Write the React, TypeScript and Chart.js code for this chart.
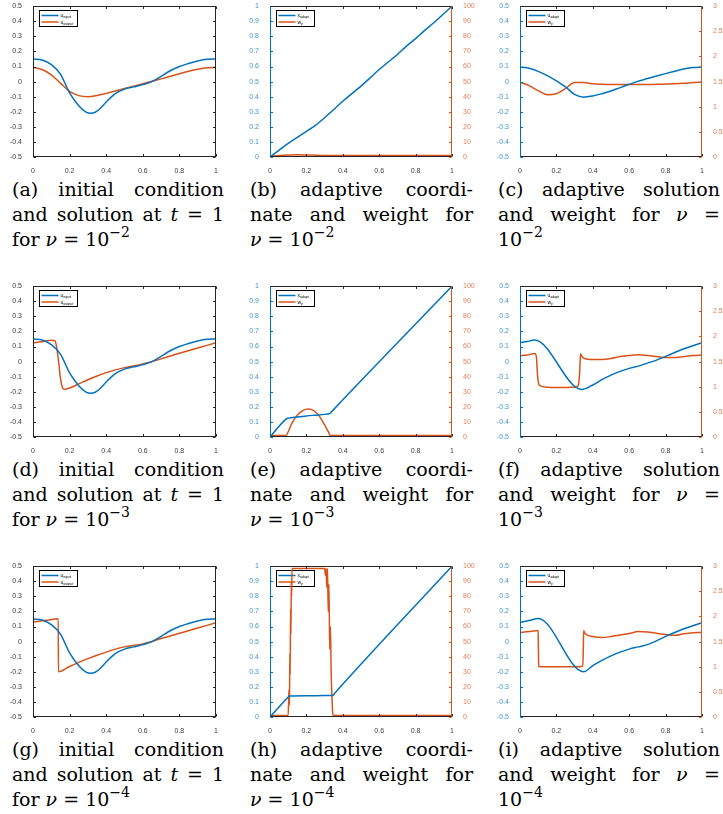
import React, { useEffect, useRef } from 'react';
import { Chart, registerables } from 'chart.js';

Chart.register(...registerables);

// ---------------- data ----------------
const X21 = [0, 0.05, 0.1, 0.15, 0.2, 0.25, 0.3, 0.35, 0.4, 0.45, 0.5, 0.55, 0.6, 0.65, 0.7, 0.75, 0.8, 0.85, 0.9, 0.95, 1];

// u_input (same in a, d, g)
const X_IN = [0, 0.05, 0.1, 0.15, 0.2, 0.25, 0.29, 0.315, 0.34, 0.37, 0.4, 0.45, 0.5, 0.55, 0.6, 0.65, 0.7, 0.75, 0.8, 0.85, 0.9, 0.95, 1];
const U_INPUT = [0.15, 0.143, 0.113, 0.05, -0.075, -0.16, -0.202, -0.21, -0.203, -0.175, -0.135, -0.08, -0.05, -0.035, -0.02, 0.0, 0.035, 0.072, 0.1, 0.12, 0.137, 0.148, 0.15];

// (a) u_output, nu = 1e-2
const U_OUT_A = [0.095, 0.08, 0.045, -0.01, -0.065, -0.093, -0.1, -0.092, -0.078, -0.062, -0.046, -0.03, -0.014, 0.002, 0.018, 0.035, 0.052, 0.068, 0.082, 0.092, 0.095];

// (d) u_output, nu = 1e-3
const X_OUT_D = [0, 0.05, 0.1, 0.12, 0.13, 0.14, 0.15, 0.16, 0.17, 0.2, 0.25, 0.3, 0.35, 0.4, 0.45, 0.5, 0.6, 0.7, 0.8, 0.9, 1];
const U_OUT_D = [0.125, 0.132, 0.142, 0.138, 0.09, 0.0, -0.11, -0.17, -0.183, -0.175, -0.148, -0.12, -0.095, -0.073, -0.055, -0.04, -0.015, 0.018, 0.055, 0.09, 0.125];

// (g) u_output, nu = 1e-4
const X_OUT_G = [0, 0.07, 0.138, 0.139, 0.2, 0.25, 0.3, 0.35, 0.4, 0.45, 0.5, 0.6, 0.7, 0.8, 0.9, 1];
const U_OUT_G = [0.13, 0.141, 0.152, -0.2, -0.165, -0.138, -0.113, -0.09, -0.07, -0.05, -0.035, -0.015, 0.02, 0.055, 0.09, 0.125];

// (b) x_adapt and weight, nu = 1e-2
const XA_B = [0, 0.045, 0.09, 0.13, 0.17, 0.21, 0.26, 0.315, 0.37, 0.42, 0.47, 0.525, 0.58, 0.63, 0.68, 0.735, 0.785, 0.84, 0.89, 0.945, 1];
const W_B = [0.6, 1.0, 1.3, 1.5, 1.4, 1.2, 1.05, 1, 1, 1, 1, 1, 1, 1, 1, 1, 1, 1, 1, 1, 1];

// (e) x_adapt and weight, nu = 1e-3
const X_XA_E = [0, 0.09, 0.1, 0.15, 0.2, 0.25, 0.3, 0.33, 0.34, 1];
const XA_E = [0, 0.12, 0.125, 0.133, 0.14, 0.145, 0.15, 0.157, 0.17, 1];
const X_W_E = [0, 0.088, 0.1, 0.12, 0.15, 0.18, 0.21, 0.24, 0.27, 0.3, 0.32, 0.333, 0.4, 1];
const W_E = [1, 1, 3.5, 9, 14.5, 17.5, 18.5, 17.5, 14, 8, 3.5, 1, 1, 1];

// (h) x_adapt and weight, nu = 1e-4
const X_XA_H = [0, 0.1, 0.105, 0.2, 0.3, 0.345, 0.35, 1];
const XA_H = [0, 0.133, 0.139, 0.141, 0.142, 0.143, 0.15, 1];
const X_W_H = [0, 0.1, 0.104, 0.107, 0.109, 0.111, 0.113, 0.115, 0.117, 0.119, 0.121, 0.124, 0.3, 0.305, 0.308, 0.312, 0.316, 0.32, 0.324, 0.328, 0.332, 0.336, 0.34, 0.345, 0.35, 1];
const W_H = [1, 1, 18, 8, 42, 28, 72, 55, 90, 80, 98.5, 98.5, 98.5, 94, 98.5, 86, 98.5, 70, 88, 45, 60, 30, 15, 2, 1, 1];

// (c) u_adapt and weight, nu = 1e-2
const UA_C = [0.097, 0.088, 0.068, 0.04, 0.005, -0.035, -0.085, -0.103, -0.095, -0.08, -0.062, -0.04, -0.018, 0.003, 0.02, 0.037, 0.053, 0.068, 0.083, 0.093, 0.097];
const WU_C = [1.49, 1.42, 1.32, 1.24, 1.26, 1.36, 1.48, 1.48, 1.455, 1.445, 1.44, 1.44, 1.44, 1.44, 1.44, 1.445, 1.45, 1.455, 1.465, 1.48, 1.49];

// (f) u_adapt and weight, nu = 1e-3
const X_UA_F = [0, 0.04, 0.08, 0.34, 0.4, 0.45, 0.5, 0.55, 0.6, 0.65, 0.7, 0.75, 0.8, 0.85, 0.9, 0.95, 1];
const UA_F = [0.125, 0.133, 0.143, -0.185, -0.155, -0.12, -0.09, -0.065, -0.045, -0.03, -0.01, 0.01, 0.035, 0.06, 0.085, 0.105, 0.125];
const X_WU_F = [0, 0.04, 0.08, 0.09, 0.095, 0.1, 0.11, 0.15, 0.2, 0.25, 0.3, 0.32, 0.328, 0.333, 0.337, 0.35, 0.4, 0.45, 0.5, 0.55, 0.6, 0.65, 0.7, 0.75, 0.8, 0.85, 0.9, 0.95, 1];
const WU_F = [1.615, 1.63, 1.66, 1.6, 1.3, 1.1, 1.02, 0.99, 0.985, 0.985, 0.99, 1.02, 1.3, 1.66, 1.62, 1.57, 1.54, 1.54, 1.56, 1.6, 1.62, 1.635, 1.62, 1.6, 1.58, 1.58, 1.6, 1.62, 1.63];

// (i) u_adapt and weight, nu = 1e-4
const X_UA_I = [0, 0.05, 0.1, 0.35, 0.4, 0.45, 0.5, 0.55, 0.6, 0.65, 0.7, 0.75, 0.8, 0.85, 0.9, 0.95, 1];
const UA_I = [0.127, 0.14, 0.153, -0.2, -0.16, -0.125, -0.095, -0.07, -0.05, -0.035, -0.02, 0.005, 0.035, 0.06, 0.085, 0.105, 0.125];
const X_WU_I = [0, 0.05, 0.1, 0.101, 0.103, 0.11, 0.2, 0.3, 0.345, 0.348, 0.35, 0.352, 0.36, 0.4, 0.45, 0.5, 0.55, 0.6, 0.65, 0.7, 0.75, 0.8, 0.85, 0.9, 0.95, 1];
const WU_I = [1.68, 1.7, 1.72, 1.4, 1.01, 1.0, 1.0, 1.0, 1.01, 1.4, 1.72, 1.7, 1.65, 1.6, 1.58, 1.6, 1.63, 1.66, 1.7, 1.69, 1.665, 1.64, 1.625, 1.655, 1.675, 1.68];

// axis ranges [min, max, step]
const X_RANGE = [0, 1, 0.2];
const U_RANGE = [-0.5, 0.5, 0.1];
const XA_RANGE = [0, 1, 0.1];
const W_RANGE = [0, 100, 10];
const WU_RANGE = [0, 3, 0.5];

const NU_EXP = ['−2', '−3', '−4'];
const LETTERS = [['a', 'b', 'c'], ['d', 'e', 'f'], ['g', 'h', 'i']];

// ---------------- style ----------------
const BLUE = '#0072BD';
const ORANGE = '#D95319';
const DARK = '#262626';
const TICK_GRAY = '#3a3a3a';
const TICK_BLUE = '#3f95d2';
const TICK_ORANGE = '#e27d52';
const TICK_FONT = '"Liberation Sans", Arial, sans-serif';

const ROW_TOPS = [5, 285, 565];
const COL_LEFTS = [33, 270, 520];
const COL_WIDTHS = [183, 182, 182];
const PLOT_H = 152;
const CAP_TOPS = [177, 457, 737];
const CAP_LEFTS = [12, 250, 498];
const CAP_WIDTHS = [212, 223, 222];

const zip = (xs: number[], ys: number[]) => xs.map((x, i) => ({ x, y: ys[i] }));

type Series = { xs: number[]; ys: number[]; color: string; axis: 'y' | 'y2' };
type Panel = {
  left: number;
  top: number;
  width: number;
  dual: boolean;
  yL: number[];
  yR?: number[];
  series: Series[];
  labels: [string, string][];
};

const fmt = (v: any) => String(Math.round(Number(v) * 100) / 100);

function buildPanels(): Panel[] {
  const out: Panel[] = [];
  const col0 = [U_OUT_A, U_OUT_D, U_OUT_G];
  const col0x = [X21, X_OUT_D, X_OUT_G];
  const col1 = [
    [X21, XA_B, X21, W_B],
    [X_XA_E, XA_E, X_W_E, W_E],
    [X_XA_H, XA_H, X_W_H, W_H],
  ];
  const col2 = [
    [X21, UA_C, X21, WU_C],
    [X_UA_F, UA_F, X_WU_F, WU_F],
    [X_UA_I, UA_I, X_WU_I, WU_I],
  ];
  for (let r = 0; r < 3; r++) {
    out.push({
      left: COL_LEFTS[0], top: ROW_TOPS[r], width: COL_WIDTHS[0], dual: false, yL: U_RANGE,
      series: [
        { xs: X_IN, ys: U_INPUT, color: BLUE, axis: 'y' },
        { xs: col0x[r], ys: col0[r], color: ORANGE, axis: 'y' },
      ],
      labels: [['u', 'input'], ['u', 'output']],
    });
    out.push({
      left: COL_LEFTS[1], top: ROW_TOPS[r], width: COL_WIDTHS[1], dual: true, yL: XA_RANGE, yR: W_RANGE,
      series: [
        { xs: col1[r][0], ys: col1[r][1], color: BLUE, axis: 'y' },
        { xs: col1[r][2], ys: col1[r][3], color: ORANGE, axis: 'y2' },
      ],
      labels: [['x', 'adapt'], ['w', 'γ']],
    });
    out.push({
      left: COL_LEFTS[2], top: ROW_TOPS[r], width: COL_WIDTHS[2], dual: true, yL: U_RANGE, yR: WU_RANGE,
      series: [
        { xs: col2[r][0], ys: col2[r][1], color: BLUE, axis: 'y' },
        { xs: col2[r][2], ys: col2[r][3], color: ORANGE, axis: 'y2' },
      ],
      labels: [['u', 'adapt'], ['w', 'γ']],
    });
  }
  return out;
}

const PANELS = buildPanels();

const PAD_L = 32;
const PAD_T = 6;
const PAD_B = 16;

function ChartPanel({ p }: { p: Panel }) {
  const ref = useRef<HTMLCanvasElement>(null);
  const rightW = p.dual ? 26 : 6;
  const cw = PAD_L + p.width + rightW;
  const ch = PAD_T + PLOT_H + PAD_B;

  useEffect(() => {
    const canvas = ref.current;
    if (!canvas) return;
    const line = (ctx: CanvasRenderingContext2D, x1: number, y1: number, x2: number, y2: number) => {
      ctx.beginPath();
      ctx.moveTo(x1, y1);
      ctx.lineTo(x2, y2);
      ctx.stroke();
    };
    const boxPlugin = {
      id: 'matlabBox',
      beforeDatasetsDraw(chart: any) {
        // legend box (data lines are drawn over it)
        const { ctx, chartArea: ca } = chart;
        const lx = Math.round(ca.left) + 6.5;
        const ly = Math.round(ca.top) + 4.5;
        const lw = 38;
        const lh = 16;
        ctx.save();
        ctx.fillStyle = '#ffffff';
        ctx.fillRect(lx, ly, lw, lh);
        ctx.strokeStyle = '#000000';
        ctx.lineWidth = 1;
        ctx.strokeRect(lx, ly, lw, lh);
        p.labels.forEach((lab, i) => {
          const yy = ly + 5 + i * 6.5;
          ctx.strokeStyle = p.series[i].color;
          ctx.lineWidth = 1.5;
          line(ctx, lx + 2, yy, lx + 19, yy);
          ctx.fillStyle = '#000000';
          ctx.textBaseline = 'alphabetic';
          ctx.font = `5px ${TICK_FONT}`;
          ctx.fillText(lab[0], lx + 21, yy + 1.5);
          const w0 = ctx.measureText(lab[0]).width;
          ctx.font = `3.5px ${TICK_FONT}`;
          ctx.fillText(lab[1], lx + 21 + w0, yy + 2.8);
        });
        ctx.restore();
      },
      afterDraw(chart: any) {
        const { ctx, chartArea: ca } = chart;
        const L = Math.round(ca.left) + 0.5;
        const R = Math.round(ca.right) - 0.5;
        const T = Math.round(ca.top) + 0.5;
        const B = Math.round(ca.bottom) - 0.5;
        const tl = 2.5;
        ctx.save();
        ctx.lineWidth = 1;
        ctx.strokeStyle = DARK;
        const xs = chart.scales.x;
        xs.ticks.forEach((t: any) => {
          const px = Math.round(xs.getPixelForValue(t.value)) + 0.5;
          line(ctx, px, B, px, B - tl);
          line(ctx, px, T, px, T + tl);
        });
        const yl = chart.scales.y;
        ctx.strokeStyle = p.dual ? BLUE : DARK;
        yl.ticks.forEach((t: any) => {
          const py = Math.round(yl.getPixelForValue(t.value)) + 0.5;
          line(ctx, L, py, L + tl, py);
          if (!p.dual) line(ctx, R, py, R - tl, py);
        });
        if (p.dual) {
          const yr = chart.scales.y2;
          ctx.strokeStyle = ORANGE;
          yr.ticks.forEach((t: any) => {
            const py = Math.round(yr.getPixelForValue(t.value)) + 0.5;
            line(ctx, R, py, R - tl, py);
          });
        }
        ctx.strokeStyle = DARK;
        line(ctx, L - 0.5, T, R + 0.5, T);
        line(ctx, L - 0.5, B, R + 0.5, B);
        ctx.strokeStyle = p.dual ? BLUE : DARK;
        line(ctx, L, T, L, B);
        ctx.strokeStyle = p.dual ? ORANGE : DARK;
        line(ctx, R, T, R, B);
        ctx.restore();
      },
    };

    const tickFont = { size: 7, family: TICK_FONT };
    const scales: any = {
      x: {
        type: 'linear',
        min: X_RANGE[0],
        max: X_RANGE[1],
        ticks: { stepSize: X_RANGE[2], autoSkip: false, maxRotation: 0, font: tickFont, color: TICK_GRAY, padding: 2, callback: fmt },
        grid: { display: false },
        border: { display: false },
        afterFit: (s: any) => { s.height = PAD_B; },
      },
      y: {
        type: 'linear',
        position: 'left',
        min: p.yL[0],
        max: p.yL[1],
        ticks: { stepSize: p.yL[2], autoSkip: false, font: tickFont, color: p.dual ? TICK_BLUE : TICK_GRAY, padding: 3, callback: fmt },
        grid: { display: false },
        border: { display: false },
        afterFit: (s: any) => { s.width = PAD_L; },
      },
    };
    if (p.dual && p.yR) {
      scales.y2 = {
        type: 'linear',
        position: 'right',
        min: p.yR[0],
        max: p.yR[1],
        ticks: { stepSize: p.yR[2], autoSkip: false, font: tickFont, color: TICK_ORANGE, padding: 3, callback: fmt },
        grid: { display: false },
        border: { display: false },
        afterFit: (s: any) => { s.width = rightW; },
      };
    }

    const chart = new Chart(canvas, {
      type: 'line',
      data: {
        datasets: p.series.map((s) => ({
          data: zip(s.xs, s.ys),
          borderColor: s.color,
          backgroundColor: s.color,
          borderWidth: 1.5,
          pointRadius: 0,
          fill: false,
          cubicInterpolationMode: 'monotone' as const,
          yAxisID: s.axis,
        })),
      },
      options: {
        animation: false,
        responsive: false,
        devicePixelRatio: 1,
        layout: { padding: { top: PAD_T, left: 0, right: p.dual ? 0 : rightW, bottom: 0 } },
        plugins: { legend: { display: false }, tooltip: { enabled: false } },
        scales,
      },
      plugins: [boxPlugin],
    } as any);
    return () => chart.destroy();
  }, []);

  return (
    <canvas
      ref={ref}
      width={cw}
      height={ch}
      style={{ position: 'absolute', left: p.left - PAD_L, top: p.top - PAD_T, width: cw, height: ch }}
    />
  );
}

const sup = (s: string) => (
  <sup style={{ fontSize: 14, lineHeight: 0, verticalAlign: 'baseline', position: 'relative', top: -9 }}>{s}</sup>
);

function captionLines(r: number, c: number): React.ReactNode[] {
  const L = LETTERS[r][c];
  const e = NU_EXP[r];
  if (c === 0)
    return [
      <>({L}) initial condition</>,
      <>and solution at <i>t</i> = 1</>,
      <>for <i>ν</i> = 10{sup(e)}</>,
    ];
  if (c === 1)
    return [
      <>({L}) adaptive coordi-</>,
      <>nate and weight for</>,
      <><i>ν</i> = 10{sup(e)}</>,
    ];
  return [
    <>({L}) adaptive solution</>,
    <>and weight for <i>ν</i> =</>,
    <>10{sup(e)}</>,
  ];
}

function Caption({ r, c }: { r: number; c: number }) {
  const lines = captionLines(r, c);
  return (
    <div
      style={{
        position: 'absolute',
        left: CAP_LEFTS[c],
        top: CAP_TOPS[r],
        width: CAP_WIDTHS[c],
        fontFamily: '"DejaVu Serif", "Liberation Serif", serif',
        fontSize: 19,
        lineHeight: '25px',
        color: '#000',
      }}
    >
      {lines.map((ln, i) => {
        const last = i === lines.length - 1;
        return (
          <div key={i} style={{ textAlign: last ? 'left' : 'justify', textAlignLast: last ? 'left' : 'justify' } as any}>
            {ln}
          </div>
        );
      })}
    </div>
  );
}

export default function App() {
  const caps: React.ReactNode[] = [];
  for (let r = 0; r < 3; r++) for (let c = 0; c < 3; c++) caps.push(<Caption key={`${r}-${c}`} r={r} c={c} />);
  return (
    <div style={{ position: 'absolute', left: 0, top: 0, width: 723, height: 814, background: '#fff', overflow: 'hidden' }}>
      {PANELS.map((p, i) => (
        <ChartPanel key={i} p={p} />
      ))}
      {caps}
    </div>
  );
}
